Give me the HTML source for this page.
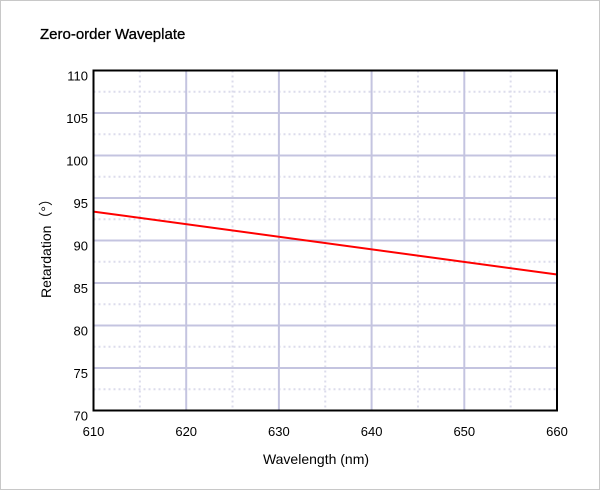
<!DOCTYPE html>
<html><head><meta charset="utf-8"><style>
body{margin:0;background:#fff}
svg{display:block;font-family:"Liberation Sans","Noto Sans CJK SC",sans-serif}
</style></head><body>
<svg id="c" width="600" height="490">
<rect x="0.5" y="0.5" width="599" height="489" fill="#fff" stroke="#c8c8c8"/>
<text x="40" y="39" font-size="15" fill="#000" stroke="#000" stroke-width="0.3">Zero-order Waveplate</text>
<g id="grid"></g>
<g id="ticks"></g>
<g id="series"></g>
<rect x="93.5" y="70.5" width="463.5" height="340" fill="none" stroke="#000" stroke-width="2"/>
<text x="316" y="464" font-size="14" text-anchor="middle">Wavelength (nm)</text>
<text transform="translate(51,245) rotate(-90)" font-size="14" text-anchor="middle">Retardation（°）</text>
</svg>
<script>
const xTicks=[610,620,630,640,650,660];
const yTicks=[70,75,80,85,90,95,100,105,110];
const wavelengths=[610,660];
const retardation=[93.4,86.0];
const X0=93.5,X1=557,Y0=410.5,Y1=70.5;
const sx=v=>X0+(v-610)/(660-610)*(X1-X0);
const sy=v=>Y0-(v-70)/(110-70)*(Y0-Y1);
const NS="http://www.w3.org/2000/svg";
const grid=document.getElementById('grid'),ticks=document.getElementById('ticks'),series=document.getElementById('series');
function ln(p,x1,y1,x2,y2,st,w,d){const l=document.createElementNS(NS,'line');l.setAttribute('x1',x1);l.setAttribute('y1',y1);l.setAttribute('x2',x2);l.setAttribute('y2',y2);l.setAttribute('stroke',st);l.setAttribute('stroke-width',w);if(d)l.setAttribute('stroke-dasharray',d);p.appendChild(l);return l;}
for(let i=0;i<xTicks.length-1;i++){const m=(xTicks[i]+xTicks[i+1])/2;const l=ln(grid,sx(m),Y1,sx(m),Y0,'#dcdcec',2,'2,3');

}
for(let i=0;i<yTicks.length-1;i++){const m=(yTicks[i]+yTicks[i+1])/2;const l=ln(grid,X0,sy(m),X1,sy(m),'#dcdcec',2,'2,3');

}
xTicks.forEach(v=>{const l=ln(grid,sx(v),Y1,sx(v),Y0,'#c4c4e0',2);


const t=document.createElementNS(NS,'text');t.setAttribute('x',sx(v));t.setAttribute('y',436);t.setAttribute('font-size',13);t.setAttribute('text-anchor','middle');t.textContent=v;


ticks.appendChild(t);});
yTicks.forEach(v=>{const l=ln(grid,X0,sy(v),X1,sy(v),'#c4c4e0',2);


const t=document.createElementNS(NS,'text');t.setAttribute('x',88);t.setAttribute('y',sy(v)+10);t.setAttribute('font-size',13);t.setAttribute('text-anchor','end');t.textContent=v;


ticks.appendChild(t);});
const p=document.createElementNS(NS,'polyline');
p.setAttribute('points',wavelengths.map((w,i)=>sx(w)+','+sy(retardation[i])).join(' '));
p.setAttribute('fill','none');p.setAttribute('stroke','#ff0000');p.setAttribute('stroke-width',2);


series.appendChild(p);
</script>
</body></html>
